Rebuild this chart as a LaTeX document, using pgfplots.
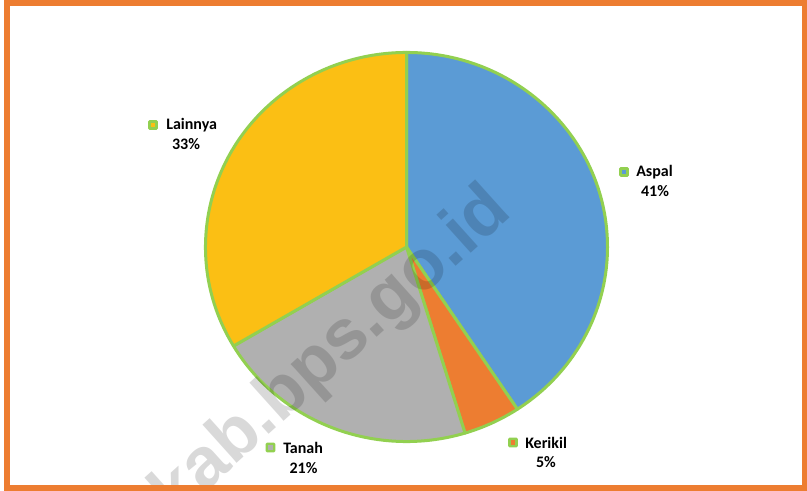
\documentclass[border=0pt]{standalone}
\usepackage{fontspec}
\setmainfont{Carlito}
\newfontfamily\wmfont{Liberation Sans}
\usepackage{pgfplots}
\pgfplotsset{compat=1.18}
\definecolor{aspal}{HTML}{5B9BD5}
\definecolor{kerikil}{HTML}{ED7D31}
\definecolor{tanah}{HTML}{B0B0B0}
\definecolor{lainnya}{HTML}{FBBF14}
\definecolor{pieline}{HTML}{92D050}
\definecolor{frame}{HTML}{ED7D31}
% shares (percent) used for slice angles, clockwise from the top
\def\pA{40.7}\def\pK{4.6}\def\pT{21.2}\def\pL{33.5}
\begin{document}
\begin{tikzpicture}
\pgfmathsetmacro{\aA}{90-3.6*\pA}
\pgfmathsetmacro{\aK}{\aA-3.6*\pK}
\pgfmathsetmacro{\aT}{\aK-3.6*\pT}
\pgfmathsetmacro{\aL}{\aT-3.6*\pL}
\newcommand{\mk}[3]{\fill[pieline,rounded corners=1pt] (axis cs:#1-4.8,#2-4.8) rectangle (axis cs:#1+4.8,#2+4.8);
 \fill[#3] (axis cs:#1-2.3,#2-2.3) rectangle (axis cs:#1+2.3,#2+2.3);}
\begin{axis}[scale only axis, width=605.25pt, height=368.25pt,
  xmin=0, xmax=807, ymin=0, ymax=491, hide axis, clip=true]
\fill[white] (axis cs:0,0) rectangle (axis cs:807,491);
\filldraw[fill=aspal, draw=pieline, line width=2.25pt, line join=round] (axis cs:406.5,244) -- ++(90:150.75pt and 145.9pt) arc[start angle=90, end angle=\aA, x radius=150.75pt, y radius=145.9pt] -- cycle;
\filldraw[fill=kerikil, draw=pieline, line width=2.25pt, line join=round] (axis cs:406.5,244) -- ++(\aA:150.75pt and 145.9pt) arc[start angle=\aA, end angle=\aK, x radius=150.75pt, y radius=145.9pt] -- cycle;
\filldraw[fill=tanah, draw=pieline, line width=2.25pt, line join=round] (axis cs:406.5,244) -- ++(\aK:150.75pt and 145.9pt) arc[start angle=\aK, end angle=\aT, x radius=150.75pt, y radius=145.9pt] -- cycle;
\filldraw[fill=lainnya, draw=pieline, line width=2.25pt, line join=round] (axis cs:406.5,244) -- ++(\aT:150.75pt and 145.9pt) arc[start angle=\aT, end angle=\aL, x radius=150.75pt, y radius=145.9pt] -- cycle;
% watermark
\node[rotate=42, anchor=east, inner sep=0pt, text=black, opacity=0.15, font=\wmfont\fontsize{53}{53}\selectfont\bfseries] at (axis cs:502,290) {rkab.bps.go.id};
% labels
\mk{624}{319}{aspal}
\node[anchor=west, inner sep=0pt, font=\fontsize{12}{14}\selectfont\bfseries] at (axis cs:636,319) {Aspal};
\node[inner sep=0pt, font=\fontsize{12}{14}\selectfont\bfseries] at (axis cs:655,300) {41\%};
\mk{513}{48.5}{kerikil}
\node[anchor=west, inner sep=0pt, font=\fontsize{12}{14}\selectfont\bfseries] at (axis cs:525,48.5) {Kerikil};
\node[inner sep=0pt, font=\fontsize{12}{14}\selectfont\bfseries] at (axis cs:546,28.5) {5\%};
\mk{270.5}{43.5}{tanah}
\node[anchor=west, inner sep=0pt, font=\fontsize{12}{14}\selectfont\bfseries] at (axis cs:283,43.5) {Tanah};
\node[inner sep=0pt, font=\fontsize{12}{14}\selectfont\bfseries] at (axis cs:303.5,23) {21\%};
\mk{153}{366}{lainnya}
\node[anchor=west, inner sep=0pt, font=\fontsize{12}{14}\selectfont\bfseries] at (axis cs:166,366) {Lainnya};
\node[inner sep=0pt, font=\fontsize{12}{14}\selectfont\bfseries] at (axis cs:186,347) {33\%};
% frame
\draw[frame, line width=4.5pt] (axis cs:6.5,2.5) rectangle (axis cs:804.5,487.5);
\end{axis}
\pgfresetboundingbox
\path[use as bounding box] (current axis.south west) rectangle (current axis.north east);
\end{tikzpicture}
\end{document}
